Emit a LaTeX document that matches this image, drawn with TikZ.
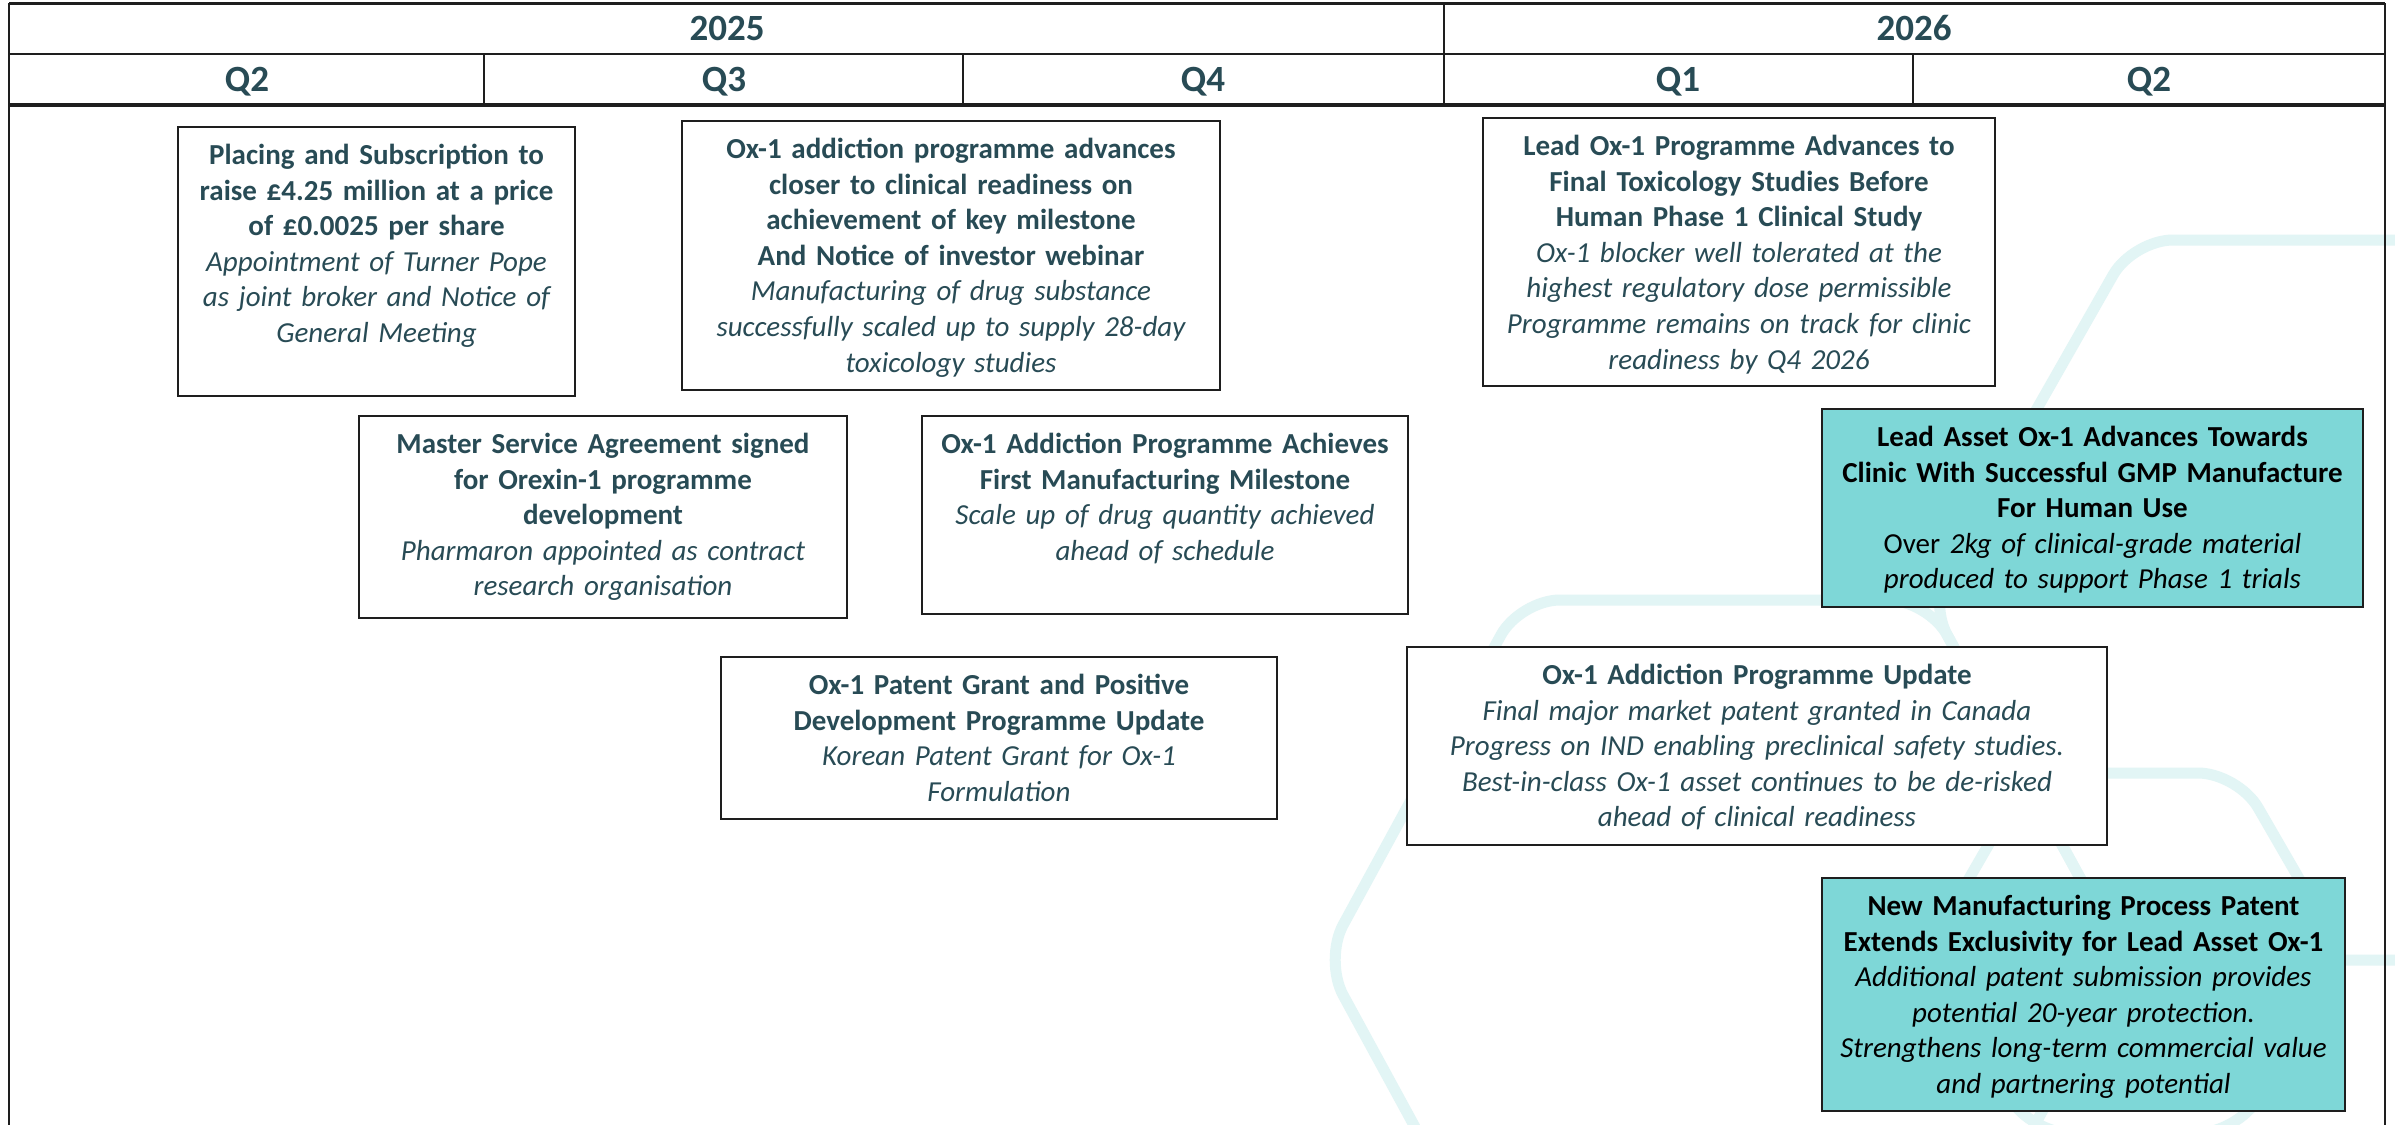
\documentclass[tikz,border=0pt]{standalone}
\usepackage{fontspec}
\setmainfont{Carlito}
\definecolor{slate}{HTML}{284B55}
\definecolor{tealbox}{HTML}{7ED7D7}
\definecolor{hexline}{HTML}{E2F5F5}
\definecolor{rule}{HTML}{1E1E1E}
\begin{document}
\begin{tikzpicture}[x=1pt,y=-1pt,
  gridline/.style={draw=rule,line width=2.8pt},
  evbox/.style={draw=rule,line width=2.8pt,fill=white,inner sep=0pt,outer sep=0pt,anchor=north west},
  evteal/.style={evbox,fill=tealbox},
  evtext/.style={align=center,text width=#1,inner sep=0pt,anchor=base,
     font=\fontsize{29}{35.6}\selectfont,text=slate},
  tealtext/.style={evtext=#1,text=black},
  hdr/.style={font=\fontsize{37}{44}\selectfont\bfseries,text=slate,anchor=base,inner sep=0pt},
  hexa/.style={draw=hexline,line width=11pt,rounded corners=40pt}]
\useasboundingbox (0,0) rectangle (2395,1124);
\fill[white] (0,0) rectangle (2395,1124);
% background hexagons
\begin{scope}
\clip (0,0) rectangle (2395,1124);
\draw[hexa] (2757,600) -- (2549,240) -- (2133,240) -- (1928,600) -- (2125,960) -- (2549,960) -- cycle;
\draw[hexa] (2125,960) -- (1928,600) -- (1520,600) -- (1324,960) -- (1520,1320) -- (1928,1320) -- cycle;
\draw[hexa] (2342,953) -- (2238,773) -- (2030,773) -- (1926,953) -- (2030,1133) -- (2238,1133) -- cycle;
\end{scope}
% header table
\draw[gridline] (9,3.5) -- (2385,3.5);
\draw[gridline] (9,54) -- (2385,54);
\draw[gridline,line width=3.2pt] (9,105) -- (2385,105);
\draw[gridline] (9,3.5) -- (9,1130);
\draw[gridline] (2385,3.5) -- (2385,1130);
\draw[gridline] (1444,3.5) -- (1444,105);
\draw[gridline] (484,54) -- (484,105);
\draw[gridline] (963,54) -- (963,105);
\draw[gridline] (1913,54) -- (1913,105);
\node[hdr] (y2025) at (727,40.5) {2025};
\node[hdr] (y2026) at (1914,40.5) {2026};
\node[hdr] (q2a) at (247,91) {Q2};
\node[hdr] (q3) at (724,91) {Q3};
\node[hdr] (q4) at (1203,91) {Q4};
\node[hdr] (q1) at (1678,91) {Q1};
\node[hdr] (q2b) at (2149,91) {Q2};
% event boxes
\node[evbox,minimum width=397pt,minimum height=269pt] (b1) at (178,127) {};
\node[evtext=390pt] (t1) at (376.5,164.5) {{\bfseries Placing and Subscription to\\raise £4.25 million at a price\\of £0.0025 per share}\\\itshape Appointment of Turner Pope\\as joint broker and Notice of\\General Meeting};
\node[evbox,minimum width=538pt,minimum height=269pt] (b2) at (682,121) {};
\node[evtext=530pt] (t2) at (951,158.5) {{\bfseries Ox-1 addiction programme advances\\closer to clinical readiness on\\achievement of key milestone\\And Notice of investor webinar}\\\itshape Manufacturing of drug substance\\successfully scaled up to supply 28-day\\toxicology studies};
\node[evbox,line width=2.2pt,minimum width=512pt,minimum height=268pt] (b3) at (1483,118) {};
\node[evtext=505pt] (t3) at (1739,155.5) {{\bfseries Lead Ox-1 Programme Advances to\\Final Toxicology Studies Before\\Human Phase 1 Clinical Study}\\\itshape Ox-1 blocker well tolerated at the\\highest regulatory dose permissible\\Programme remains on track for clinic\\readiness by Q4 2026};
\node[evbox,minimum width=488pt,minimum height=202pt] (b4) at (359,416) {};
\node[evtext=480pt] (t4) at (603,453.5) {{\bfseries Master Service Agreement signed\\for Orexin-1 programme\\development}\\\itshape Pharmaron appointed as contract\\research organisation};
\node[evbox,minimum width=486pt,minimum height=198pt] (b5) at (922,416) {};
\node[evtext=480pt] (t5) at (1165,453.5) {{\bfseries Ox-1 Addiction Programme Achieves\\First Manufacturing Milestone}\\\itshape Scale up of drug quantity achieved\\ahead of schedule};
\node[evteal,minimum width=541pt,minimum height=198pt] (b6) at (1822,409) {};
\node[tealtext=535pt] (t6) at (2092.5,446.5) {{\bfseries Lead Asset Ox-1 Advances Towards\\Clinic With Successful GMP Manufacture\\For Human Use}\\Over \textit{2kg of clinical-grade material}\\\itshape produced to support Phase 1 trials};
\node[evbox,minimum width=556pt,minimum height=162pt] (b7) at (721,657) {};
\node[evtext=550pt] (t7) at (999,694.5) {{\bfseries Ox-1 Patent Grant and Positive\\Development Programme Update}\\\itshape Korean Patent Grant for Ox-1\\Formulation};
\node[evbox,minimum width=700pt,minimum height=198pt] (b8) at (1407,647) {};
\node[evtext=690pt] (t8) at (1757,684.5) {{\bfseries Ox-1 Addiction Programme Update}\\\itshape Final major market patent granted in Canada\\Progress on IND enabling preclinical safety studies.\\Best-in-class Ox-1 asset continues to be de-risked\\ahead of clinical readiness};
\node[evteal,minimum width=523pt,minimum height=233pt] (b9) at (1822,878) {};
\node[tealtext=515pt] (t9) at (2083.5,915.5) {{\bfseries New Manufacturing Process Patent\\Extends Exclusivity for Lead Asset Ox-1}\\\itshape Additional patent submission provides\\potential 20-year protection.\\Strengthens long-term commercial value\\and partnering potential};
\end{tikzpicture}
\end{document}
